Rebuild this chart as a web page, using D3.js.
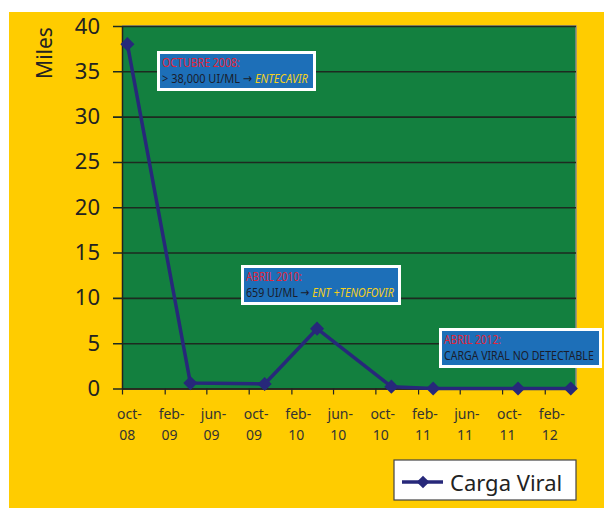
<!DOCTYPE html>
<html>
<head>
<meta charset="utf-8">
<script src="https://cdn.jsdelivr.net/npm/d3@7"></script>
<style>
  html, body { margin: 0; padding: 0; background: #fff; }
  svg { display: block; }
</style>
</head>
<body>
<div id="chart"></div>
<script>
// data (thousands of copies)
const months = ["2008-10", "2009-04", "2009-11", "2010-04", "2010-11", "2011-03", "2011-11", "2012-04"];
const cargaViral = [38.0, 0.6, 0.5, 6.6, 0.2, 0, 0, 0];
const tickMonths = ["2008-10", "2009-02", "2009-06", "2009-10", "2010-02", "2010-06", "2010-10", "2011-02", "2011-06", "2011-10", "2012-02"];
const tickTop = ["oct-", "feb-", "jun-", "oct-", "feb-", "jun-", "oct-", "feb-", "jun-", "oct-", "feb-"];
const tickBottom = ["08", "09", "09", "09", "10", "10", "10", "11", "11", "11", "12"];
const yTicks = [0, 5, 10, 15, 20, 25, 30, 35, 40];
const noteTitles = ["OCTUBRE 2008:", "ABRIL 2010:", "ABRIL 2012:"];
const noteLines = [
  [["> 38,000 UI/ML \u2192 ", false], ["ENTECAVIR", true]],
  [["659 UI/ML \u2192 ", false], ["ENT +TENOFOVIR", true]],
  [["CARGA VIRAL NO DETECTABLE", false]]
];

const W = 604, H = 508;
const plot = { left: 122, right: 576, top: 26, bottom: 388.5 };
const noteBoxes = [
  { x: 157, y: 51, w: 159, h: 40, titleW: 78, lineW: 146 },
  { x: 241, y: 265, w: 160, h: 40, titleW: 56, lineW: 148 },
  { x: 439, y: 328, w: 163, h: 40, titleW: 57, lineW: 150 }
];

const parse = d3.timeParse("%Y-%m");
const mid = d => new Date((+d + +d3.timeMonth.offset(d, 1)) / 2);

const svg = d3.select("#chart").append("svg")
  .attr("width", W).attr("height", H);

svg.append("rect")
  .attr("x", 9).attr("y", 12)
  .attr("width", W - 9).attr("height", H - 12)
  .attr("fill", "#FFCC00");

const x = d3.scaleTime()
  .domain([parse("2008-10"), parse("2012-05")])
  .range([plot.left, plot.right]);
const y = d3.scaleLinear()
  .domain([0, 40])
  .range([plot.bottom, plot.top]);

// plot area
svg.append("rect")
  .attr("x", plot.left).attr("y", plot.top)
  .attr("width", plot.right - plot.left).attr("height", plot.bottom - plot.top)
  .attr("fill", "#13803F");
svg.append("path")
  .attr("d", `M${plot.left},${plot.top}H${plot.right}V${plot.bottom}`)
  .attr("fill", "none").attr("stroke", "#8a8a8a").attr("stroke-width", 1.5);

// y axis with gridlines
const yAxis = svg.append("g")
  .attr("transform", `translate(${plot.left},0)`)
  .call(d3.axisLeft(y).tickValues(yTicks)
    .tickSize(-(plot.right - plot.left)).tickSizeOuter(0).tickPadding(0));
yAxis.select(".domain").attr("stroke", "#222").attr("stroke-width", 1.5);
yAxis.selectAll(".tick line")
  .attr("x1", -9).attr("stroke", "#1d2a20").attr("stroke-width", 1.6);
yAxis.selectAll(".tick text")
  .attr("x", -22)
  .attr("font-family", "'Noto Sans', 'Open Sans', sans-serif")
  .attr("font-size", 22).attr("fill", "#222");

svg.append("text")
  .attr("transform", "translate(52,53) rotate(-90)")
  .attr("text-anchor", "middle")
  .attr("font-family", "'Noto Sans', 'Open Sans', sans-serif")
  .attr("font-size", 21).attr("fill", "#222")
  .text("Miles");

// x axis: ticks at month boundaries, labels at month centres
const tickDates = tickMonths.map(parse);
const xAxis = svg.append("g")
  .attr("transform", `translate(0,${plot.bottom})`)
  .call(d3.axisBottom(x).tickValues(tickDates).tickSize(6).tickSizeOuter(0).tickFormat(""));
xAxis.select(".domain").attr("stroke", "#222").attr("stroke-width", 1.5);
xAxis.selectAll(".tick line").attr("stroke", "#222").attr("stroke-width", 1.2);

const xLab = svg.append("g")
  .attr("font-family", "'Noto Sans', 'Open Sans', sans-serif")
  .attr("font-size", 14).attr("fill", "#333")
  .attr("text-anchor", "middle");
xLab.selectAll("text.top")
  .data(tickDates)
  .join("text").attr("class", "top")
  .attr("x", d => x(mid(d)) + 2).attr("y", 419)
  .text((d, i) => tickTop[i]);
xLab.selectAll("text.bot")
  .data(tickDates)
  .join("text").attr("class", "bot")
  .attr("x", d => x(mid(d))).attr("y", 440)
  .text((d, i) => tickBottom[i]);

// series
const pts = months.map((m, i) => ({ date: parse(m), v: cargaViral[i] }));
const navy = "#27287A";
svg.append("path")
  .datum(pts)
  .attr("fill", "none").attr("stroke", navy).attr("stroke-width", 3.5)
  .attr("stroke-linejoin", "round")
  .attr("d", d3.line().x(d => x(mid(d.date))).y(d => y(d.v)));

const diamond = d3.symbol().type(d3.symbolSquare).size(100);
svg.selectAll("path.mark")
  .data(pts)
  .join("path").attr("class", "mark")
  .attr("d", diamond)
  .attr("fill", navy)
  .attr("transform", d => `translate(${x(mid(d.date))},${y(d.v)}) rotate(45)`);

// squeeze a text horizontally to a target width (condensed look)
function fitWidth(sel, tx, target) {
  const w = sel.node().getComputedTextLength();
  sel.attr("transform", `translate(${tx},0) scale(${target / w},1)`).attr("x", 0);
}

// annotation boxes
const noteFont = "'Noto Sans', 'DejaVu Sans', sans-serif";
noteBoxes.forEach((b, i) => {
  const g = svg.append("g").attr("transform", `translate(${b.x},${b.y})`);
  g.append("rect")
    .attr("x", 1.5).attr("y", 1.5)
    .attr("width", b.w - 3).attr("height", b.h - 3)
    .attr("fill", "#1D6FB8").attr("stroke", "#fff").attr("stroke-width", 3);
  const t1 = g.append("text")
    .attr("y", 16)
    .attr("font-family", noteFont).attr("font-size", 13)
    .attr("fill", "#E0263A")
    .text(noteTitles[i]);
  fitWidth(t1, 5, b.titleW);
  const t = g.append("text")
    .attr("y", 32)
    .attr("font-family", noteFont).attr("font-size", 13)
    .attr("fill", "#1a1d2c");
  noteLines[i].forEach(([s, em]) => {
    t.append("tspan")
      .attr("fill", em ? "#F4D01E" : "#1a1d2c")
      .attr("font-style", em ? "italic" : "normal")
      .text(s);
  });
  fitWidth(t, 5, b.lineW);
});

// legend
const leg = svg.append("g").attr("transform", "translate(394,460)");
leg.append("rect")
  .attr("width", 182).attr("height", 40)
  .attr("fill", "#fff").attr("stroke", "#444").attr("stroke-width", 1.2);
leg.append("line")
  .attr("x1", 8).attr("x2", 49).attr("y1", 22).attr("y2", 22)
  .attr("stroke", navy).attr("stroke-width", 3.5);
leg.append("path")
  .attr("d", d3.symbol().type(d3.symbolSquare).size(80))
  .attr("fill", navy)
  .attr("transform", "translate(29,22) rotate(45)");
leg.append("text")
  .attr("x", 56).attr("y", 31)
  .attr("font-family", "'Noto Sans', 'Open Sans', sans-serif")
  .attr("font-size", 22).attr("fill", "#222")
  .text("Carga Viral");
</script>
</body>
</html>
